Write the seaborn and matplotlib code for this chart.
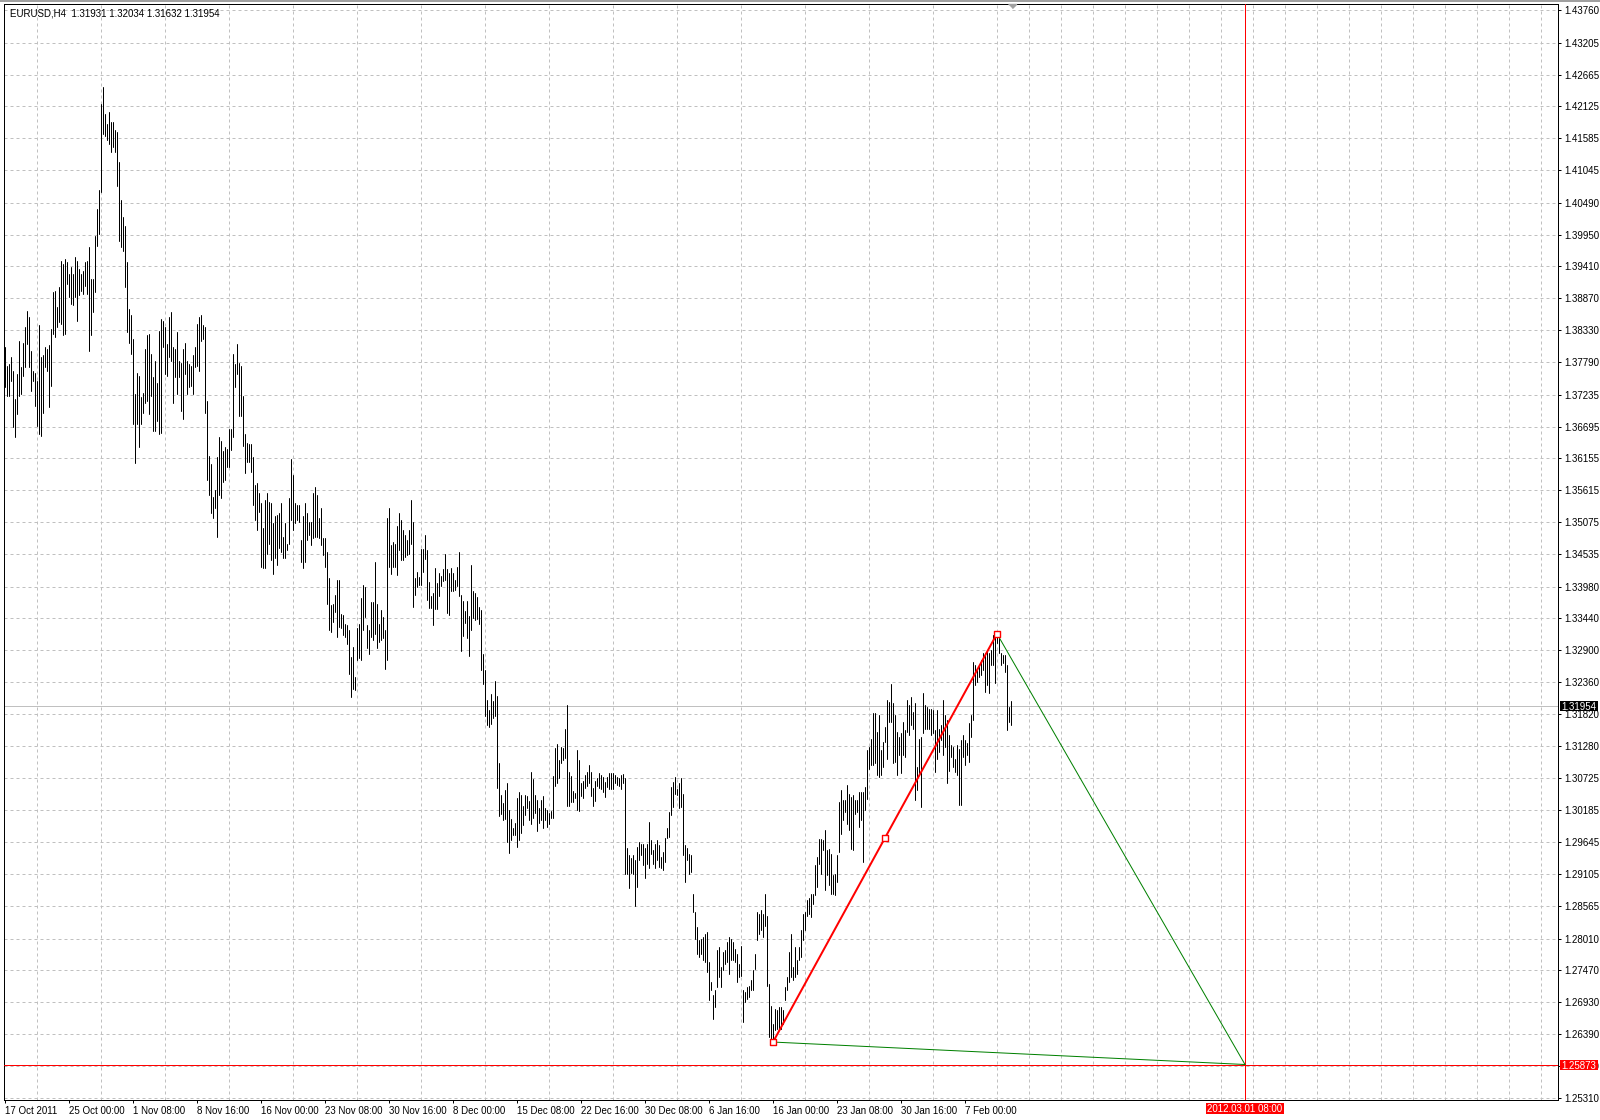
import numpy as np
import pandas as pd
import matplotlib
matplotlib.use("Agg")
import matplotlib.pyplot as plt
from matplotlib.patches import Rectangle
import seaborn as sns

# EURUSD H4 bars (high / low per bar)
high = [
    1.3804, 1.3773, 1.3776, 1.3787, 1.3764, 1.3716, 1.3759, 1.3815, 1.3770, 1.3812,
    1.3838, 1.3866, 1.3855, 1.3798, 1.3764, 1.3761, 1.3747, 1.3841, 1.3787, 1.3790,
    1.3804, 1.3801, 1.3807, 1.3835, 1.3897, 1.3900, 1.3872, 1.3906, 1.3951, 1.3945,
    1.3954, 1.3948, 1.3928, 1.3940, 1.3928, 1.3957, 1.3951, 1.3937, 1.3928, 1.3934,
    1.3948, 1.3951, 1.3974, 1.3920, 1.3920, 1.3993, 1.4039, 1.4070, 1.4217, 1.4245,
    1.4200, 1.4183, 1.4203, 1.4186, 1.4186, 1.4172, 1.4169, 1.4118, 1.4053, 1.4025,
    1.4010, 1.3948, 1.3869, 1.3858, 1.3818, 1.3725, 1.3761, 1.3756, 1.3719, 1.3727,
    1.3801, 1.3824, 1.3826, 1.3793, 1.3753, 1.3781, 1.3744, 1.3832, 1.3852, 1.3849,
    1.3838, 1.3810, 1.3855, 1.3863, 1.3804, 1.3801, 1.3829, 1.3781, 1.3778, 1.3801,
    1.3812, 1.3781, 1.3776, 1.3773, 1.3790, 1.3804, 1.3843, 1.3855, 1.3858, 1.3841,
    1.3838, 1.3713, 1.3620, 1.3606, 1.3550, 1.3562, 1.3617, 1.3651, 1.3645, 1.3628,
    1.3634, 1.3631, 1.3665, 1.3665, 1.3793, 1.3776, 1.3810, 1.3778, 1.3773, 1.3722,
    1.3657, 1.3642, 1.3640, 1.3640, 1.3617, 1.3570, 1.3573, 1.3556, 1.3539, 1.3497,
    1.3545, 1.3556, 1.3542, 1.3539, 1.3505, 1.3517, 1.3519, 1.3522, 1.3539, 1.3482,
    1.3505, 1.3471, 1.3548, 1.3614, 1.3587, 1.3539, 1.3536, 1.3536, 1.3477, 1.3517,
    1.3539, 1.3522, 1.3508, 1.3508, 1.3556, 1.3567, 1.3553, 1.3514, 1.3531, 1.3480,
    1.3480, 1.3457, 1.3412, 1.3367, 1.3369, 1.3384, 1.3409, 1.3409, 1.3352, 1.3350,
    1.3335, 1.3333, 1.3324, 1.3279, 1.3296, 1.3245, 1.3327, 1.3335, 1.3378, 1.3401,
    1.3398, 1.3333, 1.3324, 1.3372, 1.3372, 1.3440, 1.3369, 1.3335, 1.3358, 1.3347,
    1.3324, 1.3514, 1.3531, 1.3468, 1.3474, 1.3471, 1.3500, 1.3522, 1.3511, 1.3494,
    1.3485, 1.3477, 1.3494, 1.3545, 1.3508, 1.3412, 1.3423, 1.3414, 1.3461, 1.3461,
    1.3486, 1.3460, 1.3405, 1.3382, 1.3387, 1.3429, 1.3404, 1.3421, 1.3416, 1.3427,
    1.3454, 1.3427, 1.3421, 1.3429, 1.3421, 1.3410, 1.3431, 1.3457, 1.3383, 1.3373,
    1.3356, 1.3373, 1.3348, 1.3434, 1.3390, 1.3387, 1.3380, 1.3363, 1.3359, 1.3283,
    1.3257, 1.3205, 1.3189, 1.3215, 1.3204, 1.3237, 1.3212, 1.3099, 1.3044, 1.3031,
    1.3053, 1.3064, 1.3019, 1.3004, 1.2988, 1.2997, 1.3039, 1.3050, 1.3045, 1.3025,
    1.3044, 1.3042, 1.3035, 1.3084, 1.3071, 1.3044, 1.3036, 1.3022, 1.3036, 1.3042,
    1.3022, 1.3019, 1.3014, 1.3018, 1.3076, 1.3124, 1.3131, 1.3104, 1.3126, 1.3124,
    1.3157, 1.3197, 1.3084, 1.3077, 1.3051, 1.3048, 1.3120, 1.3104, 1.3064, 1.3069,
    1.3079, 1.3083, 1.3095, 1.3084, 1.3056, 1.3068, 1.3073, 1.3082,
    1.3078, 1.3075, 1.3067, 1.3075, 1.3081, 1.3081, 1.3082, 1.3078, 1.3075, 1.3073,
    1.3078, 1.3080, 1.3073, 1.2954, 1.2942, 1.2937, 1.2942, 1.2934, 1.2956, 1.2965,
    1.2962, 1.2962, 1.2954, 1.2962, 1.2999, 1.2968, 1.2951, 1.2962, 1.2968, 1.2959,
    1.2939, 1.2948, 1.2971, 1.2988, 1.3016, 1.3058, 1.3067, 1.3075, 1.3055, 1.3064,
    1.3073, 1.3047, 1.2959, 1.2954, 1.2945, 1.2942, 1.2877, 1.2846, 1.2821, 1.2798,
    1.2801, 1.2804, 1.2809, 1.2812, 1.2761, 1.2727, 1.2705, 1.2713, 1.2781, 1.2787,
    1.2753, 1.2778, 1.2781, 1.2795, 1.2803, 1.2801, 1.2795, 1.2784, 1.2775, 1.2758,
    1.2789, 1.2713, 1.2710, 1.2719, 1.2721, 1.2730, 1.2747, 1.2775, 1.2846, 1.2843,
    1.2849, 1.2843, 1.2877, 1.2840, 1.2724, 1.2687, 1.2656, 1.2682, 1.2679, 1.2685,
    1.2685, 1.2679, 1.2719, 1.2736, 1.2778, 1.2809, 1.2753, 1.2787, 1.2764, 1.2787,
    1.2815, 1.2843, 1.2846, 1.2866, 1.2869, 1.2877, 1.2877, 1.2925, 1.2939, 1.2970,
    1.2970, 1.2968, 1.2985, 1.2951, 1.2953, 1.2945, 1.2908, 1.2911, 1.2942, 1.3033,
    1.3053, 1.3036, 1.3036, 1.3061, 1.3047, 1.3041, 1.3044, 1.3036, 1.3036, 1.3050,
    1.3050, 1.3050, 1.3058, 1.3120, 1.3126, 1.3140, 1.3183, 1.3183, 1.3152, 1.3180,
    1.3120, 1.3135, 1.3160, 1.3205, 1.3203, 1.3232, 1.3200, 1.3180, 1.3152, 1.3143,
    1.3149, 1.3169, 1.3154, 1.3205, 1.3197, 1.3211, 1.3186, 1.3200, 1.3092, 1.3140,
    1.3143, 1.3217, 1.3197, 1.3194, 1.3191, 1.3191, 1.3188, 1.3154, 1.3188, 1.3157,
    1.3163, 1.3205, 1.3180, 1.3171, 1.3146, 1.3129, 1.3126, 1.3106, 1.3129, 1.3123,
    1.3137, 1.3146, 1.3137, 1.3132, 1.3166, 1.3180, 1.3270, 1.3265, 1.3256, 1.3265,
    1.3273, 1.3285, 1.3285, 1.3290, 1.3285, 1.3290, 1.3316, 1.3313, 1.3318, 1.3310,
    1.3285, 1.3282, 1.3282, 1.3265, 1.3194, 1.32034,
]
low = [
    1.3736, 1.3722, 1.3722, 1.3747, 1.3668, 1.3651, 1.3691, 1.3722, 1.3725, 1.3756,
    1.3770, 1.3810, 1.3770, 1.3730, 1.3747, 1.3705, 1.3671, 1.3657, 1.3654, 1.3693,
    1.3770, 1.3764, 1.3702, 1.3739, 1.3826, 1.3821, 1.3838, 1.3846, 1.3843, 1.3824,
    1.3826, 1.3911, 1.3889, 1.3877, 1.3875, 1.3889, 1.3849, 1.3892, 1.3900, 1.3894,
    1.3908, 1.3894, 1.3798, 1.3824, 1.3863, 1.3897, 1.3976, 1.3996, 1.4067, 1.4166,
    1.4163, 1.4155, 1.4149, 1.4135, 1.4143, 1.4135, 1.4078, 1.3985, 1.3974, 1.3968,
    1.3906, 1.3829, 1.3812, 1.3793, 1.3674, 1.3608, 1.3674, 1.3634, 1.3674, 1.3693,
    1.3710, 1.3713, 1.3691, 1.3722, 1.3662, 1.3662, 1.3679, 1.3657, 1.3659, 1.3804,
    1.3759, 1.3756, 1.3787, 1.3781, 1.3710, 1.3753, 1.3725, 1.3753, 1.3696, 1.3682,
    1.3759, 1.3725, 1.3736, 1.3739, 1.3725, 1.3770, 1.3773, 1.3764, 1.3815, 1.3818,
    1.3693, 1.3579, 1.3553, 1.3522, 1.3514, 1.3531, 1.3482, 1.3553, 1.3548, 1.3576,
    1.3579, 1.3601, 1.3601, 1.3630, 1.3652, 1.3736, 1.3759, 1.3688, 1.3688, 1.3636,
    1.3590, 1.3610, 1.3610, 1.3593, 1.3536, 1.3511, 1.3494, 1.3525, 1.3432, 1.3429,
    1.3429, 1.3454, 1.3471, 1.3443, 1.3420, 1.3446, 1.3434, 1.3463, 1.3457, 1.3446,
    1.3446, 1.3460, 1.3471, 1.3511, 1.3494, 1.3505, 1.3511, 1.3508, 1.3440, 1.3429,
    1.3440, 1.3477, 1.3485, 1.3468, 1.3480, 1.3482, 1.3482, 1.3480, 1.3468, 1.3451,
    1.3432, 1.3369, 1.3324, 1.3321, 1.3338, 1.3355, 1.3313, 1.3330, 1.3327, 1.3316,
    1.3313, 1.3301, 1.3250, 1.3211, 1.3225, 1.3222, 1.3273, 1.3276, 1.3273, 1.3324,
    1.3347, 1.3293, 1.3284, 1.3313, 1.3307, 1.3318, 1.3293, 1.3304, 1.3307, 1.3310,
    1.3259, 1.3273, 1.3432, 1.3420, 1.3432, 1.3432, 1.3417, 1.3460, 1.3443, 1.3443,
    1.3449, 1.3451, 1.3454, 1.3471, 1.3364, 1.3384, 1.3398, 1.3401, 1.3401, 1.3422,
    1.3444, 1.3375, 1.3361, 1.3362, 1.3332, 1.3360, 1.3360, 1.3382, 1.3399, 1.3407,
    1.3410, 1.3353, 1.3350, 1.3390, 1.3391, 1.3393, 1.3399, 1.3382, 1.3288, 1.3314,
    1.3336, 1.3311, 1.3281, 1.3325, 1.3345, 1.3342, 1.3343, 1.3334, 1.3257, 1.3233,
    1.3178, 1.3163, 1.3159, 1.3165, 1.3175, 1.3178, 1.3056, 1.3008, 1.3013, 1.3002,
    1.3004, 1.2964, 1.2946, 1.2968, 1.2977, 1.2977, 1.2956, 1.2968, 1.2980, 1.2993,
    1.3011, 1.3022, 1.3002, 1.2995, 1.3005, 1.3014, 1.2983, 1.2997, 1.3002, 1.2988,
    1.3002, 1.2991, 1.2996, 1.3005, 1.3005, 1.3059, 1.3065, 1.3073, 1.3099, 1.3104,
    1.3107, 1.3025, 1.3025, 1.3032, 1.3032, 1.3039, 1.3019, 1.3018, 1.3042, 1.3039,
    1.3056, 1.3059, 1.3065, 1.3042, 1.3025, 1.3034, 1.3059, 1.3056,
    1.3055, 1.3050, 1.3041, 1.3058, 1.3055, 1.3055, 1.3055, 1.3064, 1.3061, 1.3060,
    1.3055, 1.3064, 1.2911, 1.2911, 1.2886, 1.2912, 1.2911, 1.2857, 1.2889, 1.2934,
    1.2942, 1.2925, 1.2903, 1.2928, 1.2920, 1.2945, 1.2928, 1.2920, 1.2934, 1.2923,
    1.2920, 1.2917, 1.2931, 1.2971, 1.2973, 1.3010, 1.3024, 1.3047, 1.3044, 1.3022,
    1.3024, 1.2942, 1.2897, 1.2934, 1.2911, 1.2914, 1.2846, 1.2801, 1.2775, 1.2770,
    1.2775, 1.2764, 1.2761, 1.2744, 1.2696, 1.2713, 1.2665, 1.2685, 1.2719, 1.2736,
    1.2719, 1.2747, 1.2758, 1.2761, 1.2741, 1.2764, 1.2764, 1.2761, 1.2727, 1.2736,
    1.2738, 1.2659, 1.2693, 1.2699, 1.2702, 1.2713, 1.2713, 1.2750, 1.2798, 1.2809,
    1.2815, 1.2803, 1.2823, 1.2721, 1.2634, 1.2627, 1.2625, 1.2645, 1.2648, 1.2648,
    1.2648, 1.2656, 1.2696, 1.2713, 1.2727, 1.2736, 1.2730, 1.2736, 1.2741, 1.2764,
    1.2770, 1.2798, 1.2815, 1.2840, 1.2843, 1.2837, 1.2860, 1.2874, 1.2888, 1.2928,
    1.2911, 1.2951, 1.2883, 1.2908, 1.2891, 1.2877, 1.2877, 1.2874, 1.2897, 1.2948,
    1.2979, 1.3002, 1.3016, 1.2996, 1.2985, 1.2953, 1.2951, 1.3013, 1.3016, 1.2990,
    1.3002, 1.2931, 1.3019, 1.3038, 1.3089, 1.3095, 1.3095, 1.3098, 1.3078, 1.3075,
    1.3078, 1.3092, 1.3135, 1.3106, 1.3169, 1.3169, 1.3098, 1.3101, 1.3078, 1.3112,
    1.3081, 1.3112, 1.3109, 1.3152, 1.3146, 1.3163, 1.3157, 1.3036, 1.3053, 1.3081,
    1.3024, 1.3149, 1.3157, 1.3157, 1.3157, 1.3146, 1.3149, 1.3084, 1.3106, 1.3118,
    1.3137, 1.3112, 1.3126, 1.3064, 1.3086, 1.3109, 1.3092, 1.3084, 1.3078, 1.3027,
    1.3027, 1.3109, 1.3095, 1.3112, 1.3101, 1.3143, 1.3171, 1.3231, 1.3236, 1.3245,
    1.3248, 1.3256, 1.3219, 1.3231, 1.3217, 1.3265, 1.3265, 1.3234, 1.3302, 1.3285,
    1.3265, 1.3268, 1.3253, 1.3154, 1.3169, 1.31632,
]

# last bar OHLC shown in the header
last_open, last_high, last_low, last_close = 1.31931, 1.32034, 1.31632, 1.31954

# pattern drawn on the chart (bar index, price)
pattern_bars = [384, 440, 496]
pattern_prices = [1.26254, 1.29717, 1.33180]
target_bar = 620
target_price = 1.25873
target_time = "2012.03.01 08:00"

price_ticks = [1.43760, 1.43205, 1.42665, 1.42125, 1.41585, 1.41045, 1.40490,
               1.39950, 1.39410, 1.38870, 1.38330, 1.37790, 1.37235, 1.36695,
               1.36155, 1.35615, 1.35075, 1.34535, 1.33980, 1.33440, 1.32900,
               1.32360, 1.31820, 1.31280, 1.30725, 1.30185, 1.29645, 1.29105,
               1.28565, 1.28010, 1.27470, 1.26930, 1.26390, 1.25850, 1.25310]
time_bars = [0, 32, 64, 96, 128, 160, 192, 224, 256, 288, 320, 352, 384, 416, 448, 480]
time_labels = ["17 Oct 2011", "25 Oct 00:00", "1 Nov 08:00", "8 Nov 16:00",
               "16 Nov 00:00", "23 Nov 08:00", "30 Nov 16:00", "8 Dec 00:00",
               "15 Dec 08:00", "22 Dec 16:00", "30 Dec 08:00", "6 Jan 16:00",
               "16 Jan 00:00", "23 Jan 08:00", "30 Jan 16:00", "7 Feb 00:00"]

n = min(len(high), len(low))
bar_idx = np.arange(n)
bars = pd.DataFrame({
    "bar": np.repeat(bar_idx, 2),
    "price": np.column_stack([low[:n], high[:n]]).ravel(),
})

sns.set_theme(style="white")
plt.rcParams["font.family"] = ["Liberation Sans", "DejaVu Sans"]
FS = 7.0
GRID = "#c0c0c0"

W, H = 1600, 1120
fig = plt.figure(figsize=(W / 100, H / 100), dpi=100)
fig.patch.set_facecolor("white")
ax_l, ax_t, ax_r, ax_b = 4, 4, 1558, 1100
ax = fig.add_axes([ax_l / W, 1 - ax_b / H, (ax_r - ax_l) / W, (ax_b - ax_t) / H])
ax.set_facecolor("white")

ymin, ymax = 1.25271, 1.43862
ax.set_xlim(-0.5, 776.5)
ax.set_ylim(ymin, ymax)

# bars: one vertical high-low stroke per bar
sns.lineplot(data=bars, x="bar", y="price", units="bar", estimator=None,
             sort=False, color="black", lw=0.72, ax=ax, zorder=2)

# bid line, level lines
ax.axhline(last_close, color=GRID, lw=0.72, zorder=1.5)
ax.axhline(target_price, color="red", lw=0.72, zorder=3)
ax.axvline(target_bar, color="red", lw=0.72, zorder=3)

# pattern
sns.lineplot(x=[pattern_bars[0], target_bar], y=[pattern_prices[0], target_price],
             color="#008000", lw=0.72, ax=ax, estimator=None, sort=False, zorder=4)
sns.lineplot(x=[pattern_bars[-1], target_bar], y=[pattern_prices[-1], target_price],
             color="#008000", lw=0.72, ax=ax, estimator=None, sort=False, zorder=4)
sns.lineplot(x=pattern_bars, y=pattern_prices, color="red", lw=1.44, ax=ax,
             estimator=None, sort=False, zorder=5)
sns.scatterplot(x=pattern_bars, y=pattern_prices, marker="s", s=13,
                facecolor="white", edgecolor="red", linewidth=1.0, ax=ax, zorder=6)

ax.set_xlabel("")
ax.set_ylabel("")

for s in ax.spines.values():
    s.set_color("black")
    s.set_linewidth(0.72)
    s.set_visible(True)

# axes ticks
ax.yaxis.tick_right()
ax.set_yticks(price_ticks, [f"{p:.5f}" for p in price_ticks])
ax.tick_params(axis="y", which="major", direction="out", length=2.2, width=0.72,
               pad=2.5, labelsize=FS, colors="black", right=True, left=False)
ax.set_xticks(time_bars, time_labels)
ax.tick_params(axis="x", which="major", direction="out", length=2.2, width=0.72,
               pad=1.8, labelsize=FS, colors="black", bottom=True)
for t in ax.get_xticklabels():
    t.set_ha("left")
ax.set_xticks(np.arange(0, 777, 16), minor=True)
ax.tick_params(axis="x", which="minor", length=0)

ax.grid(axis="x", which="minor", color=GRID, lw=0.72, ls=(0, (3, 3)))
ax.grid(axis="x", which="major", visible=False)
ax.grid(axis="y", which="major", color=GRID, lw=0.72, ls=(0, (3, 3)))
ax.set_axisbelow(True)

# price labels on the right axis
ypx = (ymax - ymin) / (ax_b - ax_t)
xpx = 1 / (ax_r - ax_l)
yax = ax.get_yaxis_transform()
for price, face in [(last_close, "black"), (target_price, "red")]:
    ax.add_patch(Rectangle((1 + 2 * xpx, price - 5 * ypx), 38 * xpx, 10 * ypx,
                           transform=yax, facecolor=face, edgecolor="none",
                           clip_on=False, zorder=10))
    ax.text(1 + 21 * xpx, price, f"{price:.5f}", transform=yax, ha="center",
            va="center_baseline", color="white", fontsize=FS, zorder=11, clip_on=False)

# time label of the vertical line
xax = ax.get_xaxis_transform()
apx = 1 / (ax_b - ax_t)
ax.add_patch(Rectangle((target_bar - 19.5, -14 * apx), 39, 11 * apx, transform=xax,
                       facecolor="red", edgecolor="none", clip_on=False, zorder=10))
ax.text(target_bar, -8.5 * apx, target_time, transform=xax, ha="center",
        va="center_baseline", color="white", fontsize=FS, zorder=11, clip_on=False)

# chart shift marker
ax.plot([n - 0.5], [1 - 1.5 * apx], transform=xax, clip_on=False,
        marker=[(-1, 0.5), (1, 0.5), (0, -0.5)], markersize=5.8,
        color="#a0a0a0", lw=0, zorder=10)

# header
header = f"EURUSD,H4  {last_open:.5f} {last_high:.5f} {last_low:.5f} {last_close:.5f}"
fig.text(10 / W, 1 - 16.5 / H, header, ha="left", va="baseline", fontsize=FS,
         color="black")
fig.add_artist(plt.Line2D([0, 1], [1 - 0.5 / H] * 2, color="#a0a0a0", lw=1.44,
                          transform=fig.transFigure))

fig.savefig("out.png", dpi=100, facecolor="white")
plt.close(fig)
